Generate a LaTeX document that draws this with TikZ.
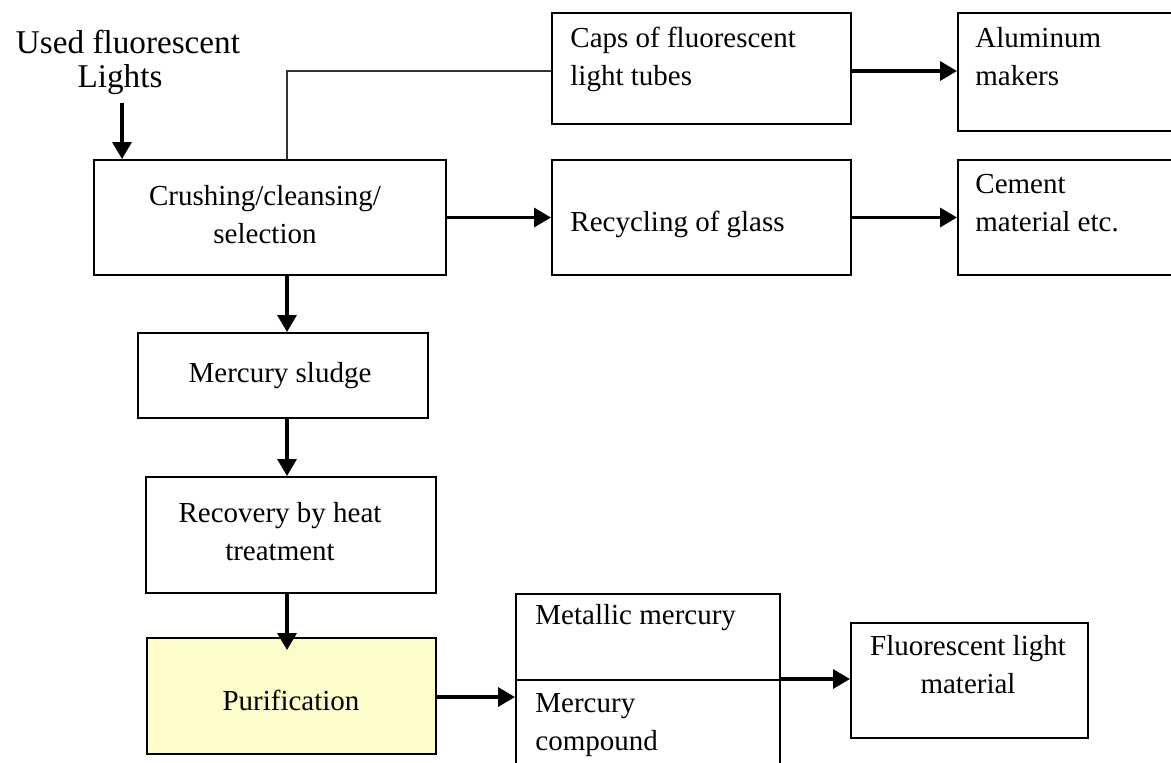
\documentclass[tikz,border=0pt]{standalone}
\usepackage{fontspec}
\setmainfont{Liberation Serif}
\usepackage{xcolor}
\usepackage{tikz}
\usetikzlibrary{arrows.meta, positioning, calc}

\tikzset{
  box/.style={draw, line width=1pt, anchor=north west, inner sep=0pt},
  txt/.style={inner sep=0pt, font=\fontsize{14.5}{18.75}\selectfont},
  flow/.style={line width=1.7pt, -{Triangle[width=9.5pt,length=8.5pt]}},
}

\begin{document}
\begin{tikzpicture}[x=0.5pt, y=-0.5pt]
    \clip (0,0) rectangle (1171,762);
    \coordinate (spine) at (287,0);
    \coordinate (caprow) at (0,71);

    % Input
    \node[txt, font=\fontsize{16.6}{17}\selectfont, align=center, anchor=base] (used) at (128,87) {Used fluorescent\\Lights\kern8pt};
    \coordinate (usedend) at (122,103);

    % Boxes
    \node[box, minimum width=176pt, minimum height=57.5pt] (crush) at (93,159) {};
    \node[box, minimum width=149.5pt, minimum height=55.5pt] (caps) at (551,12) {};
    \node[box, minimum width=120pt, minimum height=59pt] (alu) at (957,12) {};
    \node[box, minimum width=149.5pt, minimum height=57.5pt] (glass) at (551,159) {};
    \node[box, minimum width=120pt, minimum height=57.5pt] (cement) at (957,159) {};
    \node[box, minimum width=145pt, minimum height=42.5pt] (sludge) at (137,332) {};
    \node[box, minimum width=145pt, minimum height=58pt] (recov) at (145,476) {};
    \node[box, fill=yellow!20, minimum width=144.5pt, minimum height=58pt] (purif) at (146,637) {};
    \node[box, minimum width=132pt, minimum height=43pt] (metal) at (515,593) {};
    \node[box, minimum width=132pt, minimum height=50pt] (compd) at (515,679) {};
    \node[box, minimum width=118.5pt, minimum height=57.5pt] (lamp) at (850,622) {};

    % Texts (base = last line)
    \node[txt, align=center, anchor=base] at (265,243) {Crushing/cleansing/\\selection};
    \node[txt, align=left, anchor=base west] at (570,85) {Caps of fluorescent\\light tubes};
    \node[txt, align=left, anchor=base west] at (975,85) {Aluminum\\makers};
    \node[txt, anchor=base west] at (570,231) {Recycling of glass};
    \node[txt, align=left, anchor=base west] at (975,231) {Cement\\material etc.};
    \node[txt, anchor=base] at (280,382) {Mercury sludge};
    \node[txt, align=center, anchor=base] at (280,560) {Recovery by heat\\treatment};
    \node[txt, anchor=base] at (291,710) {Purification};
    \node[txt, anchor=base west] at (535,624) {Metallic mercury};
    \node[txt, align=left, anchor=base west] at (535,750) {Mercury\\compound};
    \node[txt, align=center, anchor=base] at (968,693) {Fluorescent light\\material};

    % Connectors
    \draw[flow] (usedend) -- (crush.north -| usedend);
    \draw[line width=1pt, black!80] (crush.north -| spine) |- (caps.west |- caprow);
    \draw[flow] (caps.east |- caprow) -- (alu.west |- caprow);
    \draw[flow] (crush.east |- glass.west) -- (glass.west);
    \draw[flow] (glass.east) -- (glass.east -| cement.west);
    \draw[flow] (crush.south -| spine) -- (sludge.north -| spine);
    \draw[flow] (sludge.south -| spine) -- (recov.north -| spine);
    \draw[flow, shorten >=-6.5pt] (recov.south -| spine) -- (purif.north -| spine);
    \draw[flow] (purif.east |- 0,697) -- (compd.west |- 0,697);
    \draw[flow] (compd.north east) -- (compd.north east -| lamp.west);
\end{tikzpicture}
\end{document}
